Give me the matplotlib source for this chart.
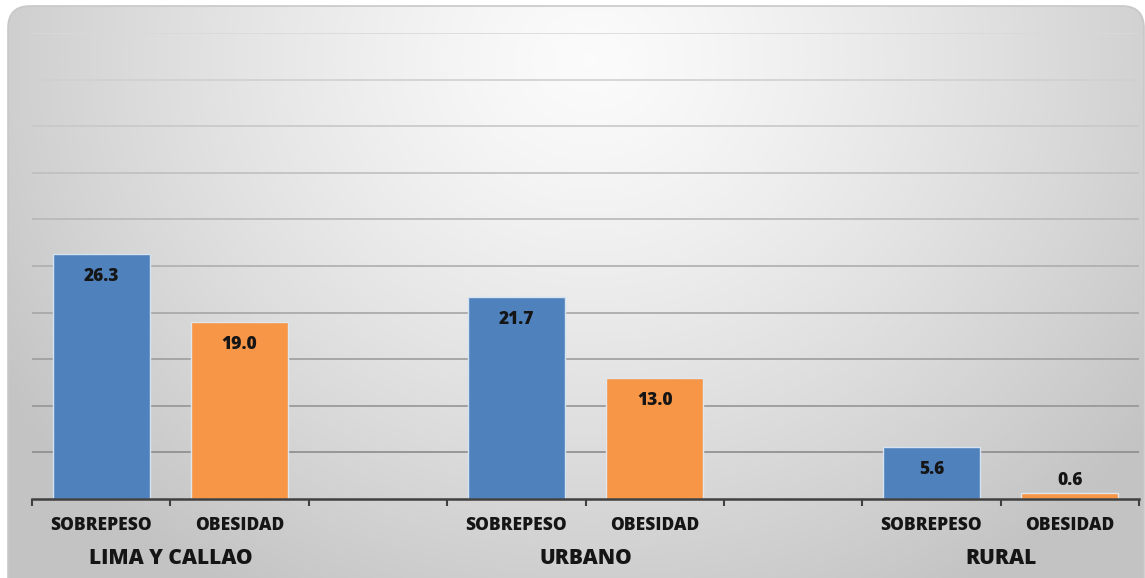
import numpy as np
import matplotlib
matplotlib.use("Agg")
import matplotlib.pyplot as plt
from matplotlib.patches import FancyBboxPatch

groups = ["LIMA Y CALLAO", "URBANO", "RURAL"]
series_names = ["SOBREPESO", "OBESIDAD"]
sobrepeso = [26.3, 21.7, 5.6]
obesidad = [19.0, 13.0, 0.6]
y_max = 50
y_step = 5

blue = "#4F81BD"
orange = "#F79646"
FONT = ["Open Sans", "DejaVu Sans"]

W, H = 1145, 578
fig = plt.figure(figsize=(W / 100, H / 100), dpi=100)
fig.patch.set_facecolor("white")

# background panel with radial gradient
bg = fig.add_axes([0, 0, 1, 1])
bg.set_xlim(0, W)
bg.set_ylim(H, 0)
bg.axis("off")
yy, xx = np.mgrid[0:H, 0:W]
cx, cy = 590, 60
d = np.sqrt(((xx - cx) / 700.0) ** 2 + ((yy - cy) / 620.0) ** 2)
d = np.clip(d, 0, 1)
val = 0.985 - 0.22 * d ** 1.3
img = np.dstack([val, val, val])
im = bg.imshow(img, extent=[0, W, H, 0], zorder=0, interpolation="bilinear")
panel = FancyBboxPatch((8, 6), W - 9, H + 20, boxstyle="round,pad=0,rounding_size=22",
                       transform=bg.transData, facecolor="none", edgecolor="#c8c8c8", lw=1.2, zorder=2)
bg.add_patch(panel)
im.set_clip_path(panel)

# main axes
left, right = 32 / W, 1139 / W
bottom, top = (H - 499) / H, (H - 33) / H
ax = fig.add_axes([left, bottom, right - left, top - bottom])
ax.patch.set_alpha(0)

n_slot = len(groups) * 3 - 1
xs_s = [g * 3 for g in range(len(groups))]
xs_o = [g * 3 + 1 for g in range(len(groups))]

ax.bar(xs_s, sobrepeso, width=0.7, color=blue, edgecolor="#d6e2f0", linewidth=1.0, zorder=3)
ax.bar(xs_o, obesidad, width=0.7, color=orange, edgecolor="#dfe6ee", linewidth=1.0, zorder=3)

ax.set_xlim(-0.5, n_slot - 0.5)
ax.set_ylim(0, y_max)
ax.set_yticks(np.arange(y_step, y_max + 0.1, y_step))
ax.yaxis.grid(True, linewidth=1.2, zorder=1)
ax.set_axisbelow(True)
glines = ax.get_ygridlines()
for i, gl in enumerate(glines):
    t = i / max(1, len(glines) - 1)
    c = 0.55 + 0.30 * t
    gl.set_color((c, c, c))
ax.tick_params(axis="y", left=False, labelleft=False)

ax.set_xticks(np.arange(-0.5, n_slot, 1.0))
ax.tick_params(axis="x", direction="out", length=5, width=1.5, color="#404040", labelbottom=False)
for s in ["top", "right", "left"]:
    ax.spines[s].set_visible(False)
ax.spines["bottom"].set_color("#404040")
ax.spines["bottom"].set_linewidth(1.8)
ax.spines["bottom"].set_zorder(4)

txt = dict(fontweight=800, family=FONT, color="#151515")

# value labels
for x, v in zip(xs_s + xs_o, sobrepeso + obesidad):
    off = -23 if v > 3 else 13
    ax.annotate(f"{v:.1f}", (x, v), xytext=(0, off), textcoords="offset pixels",
                ha="center", va="center", fontsize=12.5, zorder=5, **txt)

# category labels
trans = ax.get_xaxis_transform()
for g in range(len(groups)):
    for k, name in enumerate(series_names):
        ax.annotate(name, (g * 3 + k, 0), xycoords=trans, xytext=(0, -27), textcoords="offset pixels",
                    ha="center", va="center", fontsize=12.5, **txt)
    ax.annotate(groups[g], (g * 3 + 0.5, 0), xycoords=trans, xytext=(0, -59), textcoords="offset pixels",
                ha="center", va="center", fontsize=15, **txt)

fig.savefig("out.png", dpi=100, facecolor="white")
